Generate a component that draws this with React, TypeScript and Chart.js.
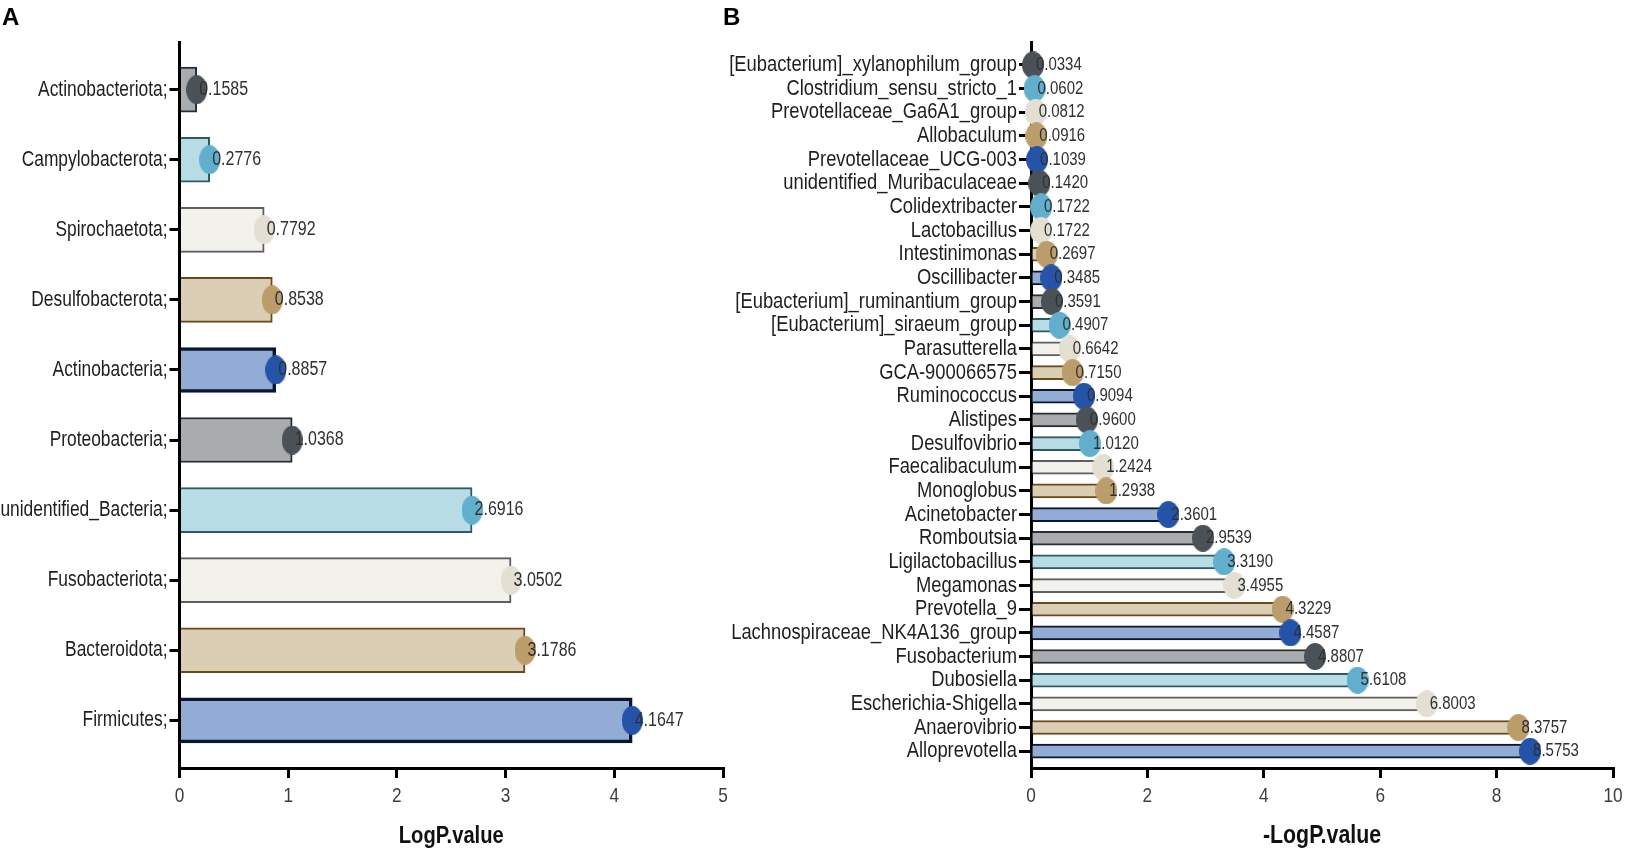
import React, { useEffect, useRef } from "react";
import { Chart, registerables } from "chart.js";

Chart.register(...registerables);

// ---------- data ----------
const phylumLabels = [
  "Actinobacteriota;",
  "Campylobacterota;",
  "Spirochaetota;",
  "Desulfobacterota;",
  "Actinobacteria;",
  "Proteobacteria;",
  "unidentified_Bacteria;",
  "Fusobacteriota;",
  "Bacteroidota;",
  "Firmicutes;",
];
const phylumValues = [0.1585, 0.2776, 0.7792, 0.8538, 0.8857, 1.0368, 2.6916, 3.0502, 3.1786, 4.1647];

const genusLabels = [
  "[Eubacterium]_xylanophilum_group",
  "Clostridium_sensu_stricto_1",
  "Prevotellaceae_Ga6A1_group",
  "Allobaculum",
  "Prevotellaceae_UCG-003",
  "unidentified_Muribaculaceae",
  "Colidextribacter",
  "Lactobacillus",
  "Intestinimonas",
  "Oscillibacter",
  "[Eubacterium]_ruminantium_group",
  "[Eubacterium]_siraeum_group",
  "Parasutterella",
  "GCA-900066575",
  "Ruminococcus",
  "Alistipes",
  "Desulfovibrio",
  "Faecalibaculum",
  "Monoglobus",
  "Acinetobacter",
  "Romboutsia",
  "Ligilactobacillus",
  "Megamonas",
  "Prevotella_9",
  "Lachnospiraceae_NK4A136_group",
  "Fusobacterium",
  "Dubosiella",
  "Escherichia-Shigella",
  "Anaerovibrio",
  "Alloprevotella",
];
const genusValues = [
  0.0334, 0.0602, 0.0812, 0.0916, 0.1039, 0.142, 0.1722, 0.1722, 0.2697, 0.3485,
  0.3591, 0.4907, 0.6642, 0.715, 0.9094, 0.96, 1.012, 1.2424, 1.2938, 2.3601,
  2.9539, 3.319, 3.4955, 4.3229, 4.4587, 4.8807, 5.6108, 6.8003, 8.3757, 8.5753,
];

const axisTitleA = "LogP.value";
const axisTitleB = "-LogP.value";

// ---------- fonts / styles ----------
const FONT = '"Liberation Sans", Arial, Helvetica, sans-serif';
const SX = 0.82; // horizontal squeeze to imitate a narrow (Arial Narrow-like) face
Chart.defaults.font.family = FONT;

const barFills = ["#a8acaf", "#b8dce6", "#f3f1ec", "#dccdb5", "#93acd6"];
const barBorders = ["#2b2f33", "#2e5a64", "#5e5e5e", "#6a4a1c", "#0b1730"];
const dotColors = ["#4b5257", "#62afcd", "#e3dfd3", "#bb9d6c", "#2453a8"];

function makeEllipse(color: string, w: number, h: number) {
  const c = document.createElement("canvas");
  c.width = w;
  c.height = h;
  const g = c.getContext("2d")!;
  g.fillStyle = color;
  g.beginPath();
  g.ellipse(w / 2, h / 2, w / 2, h / 2, 0, 0, Math.PI * 2);
  g.fill();
  return c;
}

function narrowText(
  ctx: CanvasRenderingContext2D,
  text: string,
  x: number,
  y: number,
  size: number,
  align: CanvasTextAlign,
  color: string,
  bold = false
) {
  ctx.save();
  ctx.font = `${bold ? "bold " : ""}${size}px ${FONT}`;
  ctx.fillStyle = color;
  ctx.textAlign = align;
  ctx.textBaseline = "middle";
  ctx.translate(x, y);
  ctx.scale(SX, 1);
  ctx.fillText(text, 0, 0);
  ctx.restore();
}

type PanelCfg = {
  left: number;
  width: number;
  labels: string[];
  values: number[];
  yMin: number;
  yMax: number;
  yWidth: number;
  padRight: number;
  xMax: number;
  xStep: number;
  barThickness: number;
  borderWidths: (i: number) => number;
  dotW: number;
  dotH: number;
  labelFont: number;
  valueFont: number;
  tickFont: number;
  titleFont: number;
  tickLen: number;
  valueDx: number;
  title: string;
};

function Panel({ cfg }: { cfg: PanelCfg }) {
  const ref = useRef<HTMLCanvasElement | null>(null);
  useEffect(() => {
    if (!ref.current) return;
    const idx = cfg.labels.map((_, i) => i);
    const ellipses = dotColors.map((c) => makeEllipse(c, cfg.dotW, cfg.dotH));
    const textPlugin = {
      id: "narrowTexts",
      afterDraw(chart: any) {
        const { ctx, scales, chartArea } = chart;
        const x = scales.x;
        const y = scales.y;
        // category labels
        cfg.labels.forEach((lab, i) => {
          narrowText(ctx, lab, chartArea.left - cfg.tickLen - 2, y.getPixelForValue(i), cfg.labelFont, "right", "#1e1e1e");
        });
        // value labels
        cfg.values.forEach((v, i) => {
          narrowText(ctx, v.toFixed(4), x.getPixelForValue(v) + cfg.valueDx, y.getPixelForValue(i), cfg.valueFont, "left", "#303030");
        });
        // x tick labels
        x.ticks.forEach((t: any) => {
          narrowText(ctx, String(t.value), x.getPixelForValue(t.value), chartArea.bottom + 28, cfg.tickFont, "center", "#3c3c3c");
        });
        // axis title
        narrowText(ctx, cfg.title, (chartArea.left + chartArea.right) / 2, chartArea.bottom + 68, cfg.titleFont, "center", "#111", true);
      },
    };
    const chart = new Chart(ref.current, {
      type: "bar",
      data: {
        labels: cfg.labels,
        datasets: [
          {
            type: "bar",
            data: cfg.values.map((v, i) => ({ x: v, y: i })) as any,
            backgroundColor: idx.map((i) => barFills[i % 5]),
            borderColor: idx.map((i) => barBorders[i % 5]),
            borderWidth: idx.map((i) => cfg.borderWidths(i)),
            barThickness: cfg.barThickness,
            order: 2,
          } as any,
          {
            type: "scatter",
            data: cfg.values.map((v, i) => ({ x: v, y: i })),
            pointStyle: idx.map((i) => ellipses[i % 5]) as any,
            pointRadius: cfg.dotW / 2,
            clip: false as any,
            order: 1,
          } as any,
        ],
      },
      options: {
        animation: false,
        responsive: true,
        maintainAspectRatio: false,
        indexAxis: "y",
        layout: { padding: { left: 0, right: cfg.padRight, top: 42, bottom: 0 } },
        plugins: { legend: { display: false }, tooltip: { enabled: false } },
        scales: {
          x: {
            type: "linear",
            min: 0,
            max: cfg.xMax,
            ticks: { stepSize: cfg.xStep, display: false },
            grid: { drawOnChartArea: false, drawTicks: true, tickLength: 10, color: "#000", lineWidth: 3, offset: false },
            border: { display: true, color: "#000", width: 3 },
            title: { display: false },
            afterFit: (s: any) => {
              s.height = 84;
              s.paddingLeft = 0;
              s.paddingRight = 0;
            },
          },
          y: {
            type: "linear",
            reverse: true,
            offset: false,
            min: cfg.yMin,
            max: cfg.yMax,
            afterBuildTicks: (s: any) => {
              s.ticks = idx.map((i) => ({ value: i }));
            },
            ticks: { display: false, autoSkip: false },
            grid: { drawOnChartArea: false, drawTicks: true, tickLength: cfg.tickLen, color: "#000", lineWidth: 3, offset: false },
            border: { display: true, color: "#000", width: 3 },
            afterFit: (s: any) => {
              s.width = cfg.yWidth;
              s.paddingTop = 0;
              s.paddingBottom = 0;
            },
          },
        },
      } as any,
      plugins: [textPlugin],
    });
    return () => chart.destroy();
  }, [cfg]);
  return (
    <div style={{ position: "absolute", left: cfg.left, top: 0, width: cfg.width, height: 852 }}>
      <canvas ref={ref} />
    </div>
  );
}

const cfgA: PanelCfg = {
  left: 0,
  width: 740,
  labels: phylumLabels,
  values: phylumValues,
  yMin: -0.68,
  yMax: 9.68,
  yWidth: 179.5,
  padRight: 17,
  xMax: 5,
  xStep: 1,
  barThickness: 45,
  borderWidths: (i) => (i % 5 === 4 ? 3.5 : 2),
  dotW: 21,
  dotH: 29,
  labelFont: 21.2,
  valueFont: 19.5,
  tickFont: 21,
  titleFont: 24.6,
  tickLen: 10,
  valueDx: 2.5,
  title: axisTitleA,
};

const cfgB: PanelCfg = {
  left: 715,
  width: 910,
  labels: genusLabels,
  values: genusValues,
  yMin: -0.97,
  yMax: 29.71,
  yWidth: 316,
  padRight: 11,
  xMax: 10,
  xStep: 2,
  barThickness: 14,
  borderWidths: () => 2,
  dotW: 22,
  dotH: 27,
  labelFont: 22.4,
  valueFont: 18.3,
  tickFont: 21,
  titleFont: 26,
  tickLen: 12,
  valueDx: 3,
  title: axisTitleB,
};

export default function App() {
  const letter: React.CSSProperties = {
    position: "absolute",
    top: 5,
    font: `bold 24px ${FONT}`,
    lineHeight: "24px",
    color: "#000",
  };
  return (
    <div style={{ position: "fixed", left: 0, top: 0, width: 1625, height: 852, background: "#fff", overflow: "hidden" }}>
      <Panel cfg={cfgA} />
      <Panel cfg={cfgB} />
      <div style={{ ...letter, left: 2 }}>A</div>
      <div style={{ ...letter, left: 723 }}>B</div>
    </div>
  );
}
